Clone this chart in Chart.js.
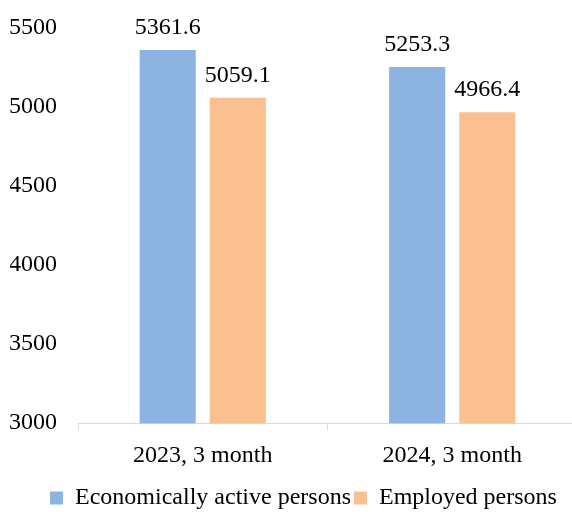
<!DOCTYPE html>
<html>
<head>
<meta charset="utf-8">
<script src="https://cdn.jsdelivr.net/npm/chart.js@4/dist/chart.umd.min.js"></script>
<style>
  html, body { margin: 0; padding: 0; background: #fff; overflow: hidden; }
  #wrap { width: 577px; height: 512px; position: relative; }
</style>
</head>
<body>
<div id="wrap"><canvas id="c"></canvas></div>
<script>
var categories = ["2023, 3 month", "2024, 3 month"];
var activeValues = [5361.6, 5253.3];
var employedValues = [5059.1, 4966.4];
var seriesNames = ["Economically active persons", "Employed persons"];
var yTicks = [3000, 3500, 4000, 4500, 5000, 5500];

var fontFamily = "'Liberation Serif', 'Times New Roman', serif";

// draws the value above each bar
var valueLabels = {
	id: "valueLabels",
	afterDatasetsDraw: function(chart) {
		var ctx = chart.ctx;
		ctx.save();
		ctx.font = "24px " + fontFamily;
		ctx.fillStyle = "#000";
		ctx.textAlign = "center";
		ctx.textBaseline = "alphabetic";
		chart.data.datasets.forEach(function(ds, i) {
			chart.getDatasetMeta(i).data.forEach(function(bar, j) {
				ctx.fillText(ds.data[j].toFixed(1), bar.x, bar.y - 16);
			});
		});
		ctx.restore();
	}
};

// nudge the legend a little right and down
var legendShift = {
	id: "legendShift",
	afterLayout: function(chart) {
		var lg = chart.legend;
		lg.left += 10; lg.right += 10;
		lg.top += 2; lg.bottom += 2;
	}
};

new Chart(document.getElementById("c"), {
	type: "bar",
	data: {
		labels: categories,
		datasets: [
			{ label: seriesNames[0], data: activeValues, backgroundColor: "#8db3e2" },
			{ label: seriesNames[1], data: employedValues, backgroundColor: "#fac090" }
		]
	},
	options: {
		responsive: true,
		maintainAspectRatio: false,
		animation: false,
		devicePixelRatio: 1,
		layout: { padding: { left: 10, right: 0, top: 28, bottom: -6 } },
		datasets: { bar: { categoryPercentage: 0.562, barPercentage: 0.8 } },
		plugins: {
			tooltip: { enabled: false },
			legend: {
				position: "bottom",
				labels: {
					font: { family: fontFamily, size: 24 },
					color: "#000",
					boxWidth: 13,
					boxHeight: 13,
					padding: 3
				}
			}
		},
		scales: {
			x: {
				grid: { display: true, drawOnChartArea: false, drawTicks: true, tickLength: 7, color: "#d9d9d9", offset: true },
				border: { display: true, color: "#d9d9d9", width: 1 },
				ticks: { font: { family: fontFamily, size: 24 }, color: "#000", padding: 11 },
				afterFit: function(axis) { axis.paddingLeft = 0; axis.paddingRight = 0; }
			},
			y: {
				min: 3000,
				max: 5500,
				afterBuildTicks: function(axis) { axis.ticks = yTicks.map(function(v) { return { value: v }; }); },
				afterFit: function(axis) { axis.width = 68; axis.paddingTop = 0; axis.paddingBottom = 0; },
				grid: { display: false, drawTicks: false },
				border: { display: false },
				ticks: {
					font: { family: fontFamily, size: 24 },
					color: "#000",
					padding: 21,
					callback: function(v) { return String(v); }
				}
			}
		}
	},
	plugins: [valueLabels, legendShift]
});
</script>
</body>
</html>
